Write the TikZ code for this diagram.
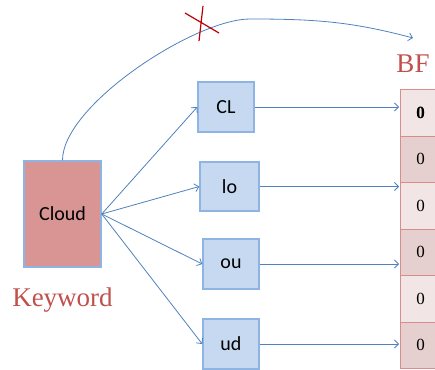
\documentclass[tikz,border=0pt]{standalone}
\usepackage{fontspec}
\setmainfont{Liberation Serif}
\newfontfamily\boxfont{Carlito}
\usetikzlibrary{arrows.meta}
\definecolor{kwred}{RGB}{192,80,77}
\definecolor{kwfill}{RGB}{217,149,148}
\definecolor{boxfill}{RGB}{198,217,241}
\definecolor{boxline}{RGB}{142,180,227}
\definecolor{arrowblue}{RGB}{79,129,189}
\definecolor{celllight}{RGB}{242,229,229}
\definecolor{celldark}{RGB}{230,207,207}
\definecolor{cellline}{RGB}{217,140,140}
\tikzset{
  gram/.style={draw=boxline,line width=1.5pt,fill=boxfill,minimum width=56pt,minimum height=50pt,
    inner sep=0pt,font=\boxfont\fontsize{20}{24}\selectfont},
  link/.style={draw=arrowblue,line width=0.8pt,->}
}
\begin{document}
\begin{tikzpicture}[x=1pt,y=-1pt,>={Straight Barb[length=4pt,width=8pt]}]
    \useasboundingbox (0,0) rectangle (435,369);
    \clip (0,0) rectangle (435,369);

    \node (cloud) [gram,fill=kwfill,minimum width=77pt,minimum height=106pt] at (62.5,214) {Cloud};
    \node (kw) [text=kwred,font=\fontsize{27}{30}\selectfont] at (62.5,300) {Keyword};

    \node (cl) [gram] at (226,107) {CL};
    \node (lo) [gram,minimum width=59pt,minimum height=49pt] at (229.5,186.5) {lo};
    \node (ou) [gram] at (231,264) {ou};
    \node (ud) [gram] at (231,344) {ud};

    % bloom filter column
    \foreach \i/\col in {1/celllight,2/celldark,3/celllight,4/celldark,5/celllight,6/celldark} {
        \node (c\i) [draw=cellline,line width=1pt,fill=\col,minimum width=40pt,minimum height=46.5pt,
            inner sep=0pt,font=\fontsize{17}{20}\selectfont,anchor=north west]
            at (400,{89+(\i-1)*46.5}) {0};
    }
    \node [font=\bfseries\fontsize{17}{20}\selectfont] at (c1) {0};
    \node (bf) [text=kwred,font=\fontsize{27}{30}\selectfont] at (413,64) {BF};

    \coordinate (bfleft) at (399,0);
    \coordinate (peak) at (250,19);
    \coordinate (bfin) at (413,38);

    \foreach \g in {cl,lo,ou,ud} {
        \draw[link] (cloud.east) -- (\g.west);
        \draw[link] (\g.east) -- (\g.east -| bfleft);
    }

    \draw[draw=arrowblue,line width=0.8pt] (cloud.north) to[out=90,in=180,looseness=0.6] (peak);
    \draw[link] (peak) to[out=0,in=165] (bfin);

    % blocked path
    \draw[red!75!black,line width=1.2pt] (185,13) -- (219,33) (203,6) -- (199,41);
\end{tikzpicture}
\end{document}
